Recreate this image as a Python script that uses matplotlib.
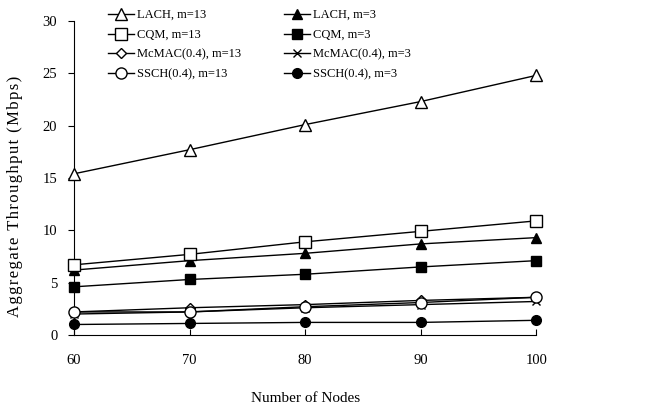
import matplotlib
matplotlib.use("Agg")
import matplotlib.pyplot as plt

plt.rcParams['font.family'] = ['Liberation Serif', 'DejaVu Serif']

nodes = [60, 70, 80, 90, 100]
lach_13 = [15.4, 17.7, 20.1, 22.3, 24.8]
lach_3 = [6.2, 7.1, 7.8, 8.7, 9.3]
cqm_13 = [6.7, 7.7, 8.9, 9.9, 10.9]
cqm_3 = [4.6, 5.3, 5.8, 6.5, 7.1]
mcmac_13 = [2.2, 2.6, 2.9, 3.3, 3.6]
mcmac_3 = [2.0, 2.2, 2.6, 2.9, 3.2]
ssch_13 = [2.2, 2.2, 2.7, 3.1, 3.6]
ssch_3 = [1.0, 1.1, 1.2, 1.2, 1.4]

labels = ["LACH, m=13", "LACH, m=3", "CQM, m=13", "CQM, m=3",
          "McMAC(0.4), m=13", "McMAC(0.4), m=3", "SSCH(0.4), m=13", "SSCH(0.4), m=3"]
series = [lach_13, lach_3, cqm_13, cqm_3, mcmac_13, mcmac_3, ssch_13, ssch_3]
markers = ['^', '^', 's', 's', 'D', 'x', 'o', 'o']
faces = ['white', 'black', 'white', 'black', 'white', 'black', 'white', 'black']
sizes = [8, 7, 8, 7, 5.5, 6, 8, 7]

fig = plt.figure(figsize=(6.67, 4.11), dpi=100)
ax = fig.add_axes([0.111, 0.185, 0.693, 0.764])

handles = []
for y, lab, m, fc, ms in zip(series, labels, markers, faces, sizes):
    h, = ax.plot(nodes, y, color='black', lw=1.0, marker=m, markersize=ms,
                 markerfacecolor=fc, markeredgecolor='black', markeredgewidth=1.0,
                 label=lab, clip_on=False, zorder=3)
    handles.append(h)

ax.set_xlim(60, 100)
ax.set_ylim(0, 30)
ax.set_xticks(nodes)
ax.set_yticks([0, 5, 10, 15, 20, 25, 30])
ax.spines['top'].set_visible(False)
ax.spines['right'].set_visible(False)
ax.tick_params(axis='x', direction='in', length=4, labelsize=10.5, pad=14)
ax.tick_params(axis='y', direction='out', length=4, labelsize=10.5, pad=8)
ax.set_xlabel("Number of Nodes", fontsize=11, labelpad=18)
ylab = "\u200a".join("Aggregate Throughput (Mbps)")
ax.set_ylabel(ylab, fontsize=12)
ax.yaxis.set_label_coords(-0.11, 0.44)

# legend in row-major order: m=13 in first column, m=3 in second
order = [0, 2, 4, 6, 1, 3, 5, 7]
leg = fig.legend(handles=[handles[i] for i in order],
                 labels=[labels[i] for i in order], ncol=2, loc='upper left',
                 bbox_to_anchor=(0.145, 1.005), frameon=False, fontsize=9,
                 handlelength=2.1, handletextpad=0.25, columnspacing=3.4,
                 labelspacing=0.62)

fig.savefig("out.png", dpi=100)
